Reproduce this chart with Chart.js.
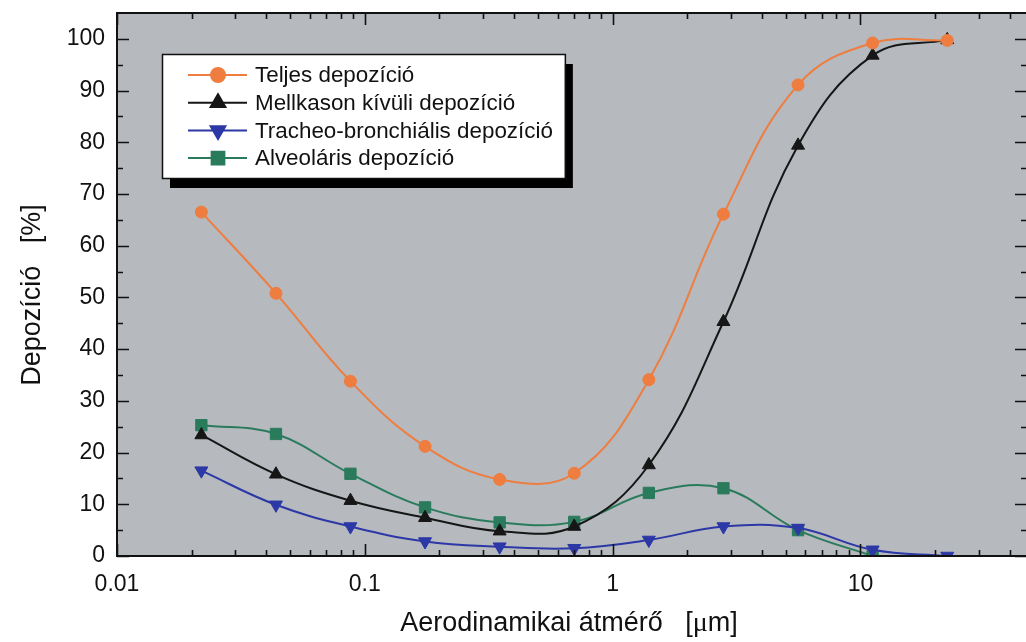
<!DOCTYPE html>
<html>
<head>
<meta charset="utf-8">
<script src="https://cdn.jsdelivr.net/npm/chart.js@4/dist/chart.umd.min.js"></script>
<style>
  html, body { margin: 0; padding: 0; background: #fff; overflow: hidden; }
  #wrap { position: relative; width: 1028px; height: 642px; }
</style>
</head>
<body>
<div id="wrap"><canvas id="depo"></canvas></div>
<script>
// particle diameters [µm] and deposition fractions [%]
const diameters = [0.0219, 0.0438, 0.0875, 0.175, 0.35, 0.7, 1.4, 2.8, 5.6, 11.2, 22.4];
const teljes     = [66.5, 50.8, 33.8, 21.2, 14.8, 16.0, 34.1, 66.1, 91.1, 99.2, 99.7];
const mellkason  = [23.4, 15.8, 10.7, 7.4, 4.8, 5.7, 17.6, 45.3, 79.4, 96.8, 99.8];
const tracheo    = [16.5, 9.9, 5.7, 2.8, 1.8, 1.5, 3.1, 5.7, 5.4, 1.2, 0];
const alveolaris = [25.3, 23.6, 15.9, 9.4, 6.5, 6.6, 12.2, 13.1, 5.0, 0, null];

const seriesNames = [
  "Teljes depozíció",
  "Mellkason kívüli depozíció",
  "Tracheo-bronchiális depozíció",
  "Alveoláris depozíció"
];
const xDecades = [0.01, 0.1, 1, 10];
const yTicks = [0, 10, 20, 30, 40, 50, 60, 70, 80, 90, 100];
const yMinor = [5, 15, 25, 35, 45, 55, 65, 75, 85, 95];

const FONT = "Arial, 'Liberation Sans', sans-serif";
const INK = "#111";

function points(values) {
  return diameters
    .map((d, i) => ({ x: d, y: values[i] }))
    .filter(p => p.y !== null);
}

function series(label, values, color, style, rotation, radius) {
  return {
    label,
    data: points(values),
    borderColor: color,
    backgroundColor: color,
    borderWidth: 2,
    tension: 0.4,
    pointStyle: style,
    rotation,
    pointRadius: radius,
    pointBorderWidth: 1,
    pointBorderColor: color,
    pointBackgroundColor: color
  };
}

const datasets = [
  series(seriesNames[0], teljes, "#ee7d3f", "circle", 0, 6),
  series(seriesNames[1], mellkason, "#161616", "triangle", 0, 7.5),
  series(seriesNames[2], tracheo, "#2c38a6", "triangle", 180, 7.5),
  series(seriesNames[3], alveolaris, "#2a7b5c", "rect", 0, 8)
];

// plot background, boxed frame with inward ticks, legend and axis titles
const decor = {
  id: "decor",
  beforeDraw(chart) {
    const { ctx, chartArea: a } = chart;
    ctx.save();
    ctx.fillStyle = "#b6b9be";
    ctx.fillRect(a.left, a.top, a.right - a.left, a.bottom - a.top);
    ctx.restore();
  },
  afterDatasetsDraw(chart) {
    const { ctx, chartArea: a, scales } = chart;
    const xs = scales.x, ys = scales.y;
    ctx.save();
    ctx.strokeStyle = INK;
    ctx.lineWidth = 2;
    ctx.strokeRect(a.left, a.top, a.right - a.left, a.bottom - a.top);

    ctx.lineWidth = 1.6;
    ctx.beginPath();
    const xTick = (v, len) => {
      const px = Math.round(xs.getPixelForValue(v)) + 0.5;
      ctx.moveTo(px, a.bottom); ctx.lineTo(px, a.bottom - len);
      ctx.moveTo(px, a.top); ctx.lineTo(px, a.top + len);
    };
    xDecades.forEach(d => {
      xTick(d, 12);
      for (let k = 2; k <= 9; k++) {
        if (d * k < xs.max) xTick(d * k, 6);
      }
    });
    const yTick = (v, len) => {
      const py = Math.round(ys.getPixelForValue(v)) + 0.5;
      ctx.moveTo(a.left, py); ctx.lineTo(a.left + len, py);
      ctx.moveTo(a.right, py); ctx.lineTo(a.right - len, py);
    };
    yTicks.forEach(v => yTick(v, 12));
    yMinor.forEach(v => yTick(v, 6));
    ctx.stroke();
    ctx.restore();
  },
  afterDraw(chart) {
    const { ctx } = chart;
    ctx.save();

    // legend box with drop shadow
    ctx.font = "22.4px " + FONT;
    const left = 162, top = 54, bottom = 178;
    const textX = 255;
    const widest = Math.max(...seriesNames.map(s => ctx.measureText(s).width));
    const right = textX + widest + 12;
    ctx.fillStyle = "#000";
    ctx.fillRect(left + 8, top + 10, right - left, bottom - top);
    ctx.fillStyle = "#fff";
    ctx.fillRect(left, top, right - left, bottom - top);
    ctx.strokeStyle = INK;
    ctx.lineWidth = 1.5;
    ctx.strokeRect(left + 0.5, top + 0.5, right - left, bottom - top);

    chart.data.datasets.forEach((ds, i) => {
      const y = top + 21 + i * 27.7;
      ctx.strokeStyle = ds.borderColor;
      ctx.lineWidth = 2;
      ctx.beginPath();
      ctx.moveTo(188, y); ctx.lineTo(247, y);
      ctx.stroke();
      ctx.fillStyle = ds.borderColor;
      Chart.helpers.drawPoint(ctx, {
        pointStyle: ds.pointStyle,
        rotation: ds.rotation,
        radius: ds.pointRadius + 1,
        borderWidth: 1
      }, 218, y);
      ctx.fillStyle = INK;
      ctx.textBaseline = "middle";
      ctx.textAlign = "left";
      ctx.fillText(ds.label, textX, y + 1);
    });

    // y axis title
    ctx.fillStyle = INK;
    ctx.font = "27px " + FONT;
    ctx.save();
    ctx.translate(40, 295);
    ctx.rotate(-Math.PI / 2);
    ctx.textAlign = "center";
    ctx.textBaseline = "alphabetic";
    ctx.fillText("Depozíció   [%]", 0, 0);
    ctx.restore();

    // x axis title, micro sign set in a serif face
    const partA = "Aerodinamikai átmérő   [";
    const partB = "μ";
    const partC = "m]";
    const sans = "27px " + FONT;
    const serif = "28px 'Liberation Serif', 'Times New Roman', serif";
    ctx.font = sans;
    const wA = ctx.measureText(partA).width;
    const wC = ctx.measureText(partC).width;
    ctx.font = serif;
    const wB = ctx.measureText(partB).width;
    let x = 569 - (wA + wB + wC) / 2;
    const base = 631;
    ctx.textAlign = "left";
    ctx.textBaseline = "alphabetic";
    ctx.font = sans; ctx.fillText(partA, x, base); x += wA;
    ctx.font = serif; ctx.fillText(partB, x, base); x += wB;
    ctx.font = sans; ctx.fillText(partC, x, base);
    ctx.restore();
  }
};

new Chart(document.getElementById("depo"), {
  type: "line",
  data: { datasets },
  options: {
    responsive: true,
    maintainAspectRatio: false,
    animation: false,
    layout: { autoPadding: false, padding: { top: 13, right: 1, left: 0, bottom: 0 } },
    plugins: { legend: { display: false }, tooltip: { enabled: false } },
    scales: {
      x: {
        type: "logarithmic",
        min: 0.01,
        max: 47,
        grid: { display: false, drawTicks: false },
        border: { display: false },
        afterBuildTicks: s => { s.ticks = xDecades.map(v => ({ value: v })); },
        afterFit: s => {
          s.height = 86;
          s.paddingLeft = 0;
          s.paddingRight = 0;
        },
        ticks: {
          autoSkip: false,
          maxRotation: 0,
          padding: 15,
          color: INK,
          font: { family: FONT, size: 23 },
          callback: v => String(v)
        }
      },
      y: {
        min: 0,
        max: 105,
        grid: { display: false, drawTicks: false },
        border: { display: false },
        afterBuildTicks: s => { s.ticks = yTicks.map(v => ({ value: v })); },
        afterFit: s => {
          s.width = 117;
          s.paddingTop = 0;
          s.paddingBottom = 0;
        },
        ticks: {
          padding: 12,
          color: INK,
          font: { family: FONT, size: 23 },
          callback: v => String(v)
        }
      }
    }
  },
  plugins: [decor]
});
</script>
</body>
</html>
